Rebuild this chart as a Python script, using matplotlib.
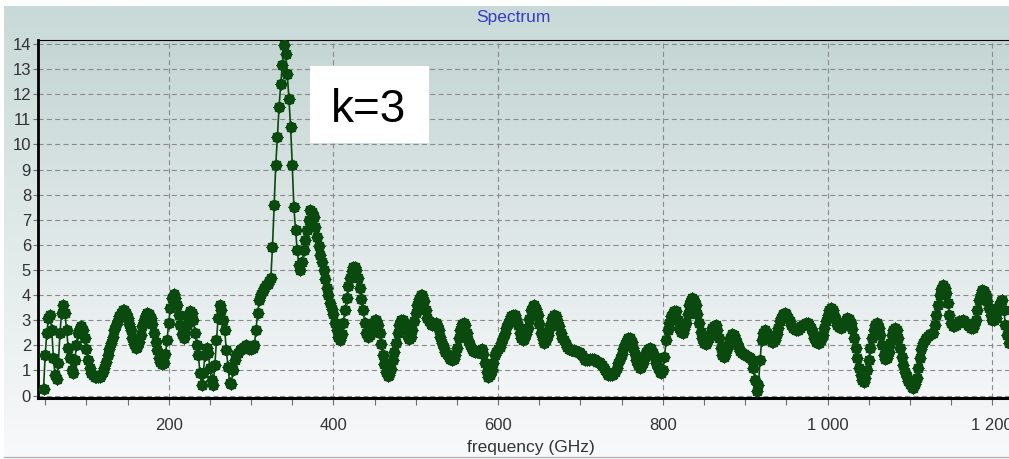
import numpy as np
import matplotlib.pyplot as plt
from matplotlib.patches import Rectangle
from matplotlib.ticker import MultipleLocator

plt.rcParams['font.family'] = ['Liberation Sans', 'DejaVu Sans']

W, H = 1009, 459

# spectrum samples, one every 2 GHz
freq_low = np.arange(48, 95, 2)
amp_low = [0.25, 1.6, 2.5, 3.1, 3.2, 2.6, 1.5, 0.8, 0.65, 1.3, 2.5, 3.3,
           3.6, 3.3, 2.6, 1.9, 1.5, 1.0, 0.9, 1.4, 2.0, 2.5, 2.7, 2.75]

freq_mid = np.arange(96, 227, 2)
amp_mid = [2.6, 2.3, 1.85, 1.4, 1.1, 0.9, 0.8, 0.75, 0.72, 0.72, 0.75, 0.8,
           0.92, 1.1, 1.35, 1.6, 1.85, 2.1, 2.35, 2.6, 2.8, 3.0, 3.15, 3.3,
           3.4, 3.4, 3.3, 3.1, 2.85, 2.6, 2.3, 2.05, 1.9, 1.95, 2.15, 2.4,
           2.75, 3.0, 3.2, 3.3, 3.25, 3.1, 2.85, 2.5, 2.15, 1.8, 1.5, 1.35,
           1.25, 1.3, 1.65, 2.2, 2.9, 3.5, 3.9, 4.05, 3.9, 3.6, 3.2, 2.8,
           2.45, 2.3, 2.5, 2.8, 3.15, 3.35]

freq_peak = np.arange(228, 363, 2)
amp_peak = [3.3, 3.0, 2.5, 2.0, 1.6, 0.9, 0.4, 0.9, 1.6, 1.9, 1.7, 1.1,
            0.6, 0.4, 1.2, 2.2, 3.1, 3.6, 3.4, 3.0, 2.6, 1.8, 1.15, 0.5,
            0.45, 1.0, 1.4, 1.6, 1.7, 1.8, 1.85, 1.9, 1.95, 2.0, 1.95, 1.85,
            1.85, 1.9, 2.0, 2.6, 3.3, 3.8, 4.05, 4.15, 4.3, 4.4, 4.45, 4.55,
            4.7, 5.9, 7.6, 9.2, 10.3, 11.5, 12.4, 13.15, 13.95, 13.6, 12.8, 11.8,
            10.7, 9.2, 7.5, 6.6, 5.8, 5.2, 5.0, 5.3]

freq_high = np.arange(364, 1221, 2)
amp_high = [
    5.8, 6.2, 6.6, 7.0, 7.4, 7.3, 7.1, 6.7, 6.3, 5.95, 5.6, 5.3,
    5.0, 4.65, 4.3, 4.0, 3.7, 3.45, 3.25, 2.9, 2.6, 2.35, 2.2, 2.45,
    2.9, 3.4, 3.9, 4.35, 4.7, 4.95, 5.1, 5.1, 5.0, 4.7, 4.3, 3.85,
    3.4, 2.9, 2.5, 2.35, 2.4, 2.7, 2.9, 3.0, 3.0, 2.8, 2.5, 2.05,
    1.6, 1.25, 0.95, 0.78, 0.8, 1.05, 1.4, 1.75, 2.1, 2.5, 2.8, 3.0,
    3.0, 2.85, 2.6, 2.35, 2.25, 2.35, 2.6, 2.95, 3.3, 3.6, 3.85, 4.0,
    4.0, 3.75, 3.4, 3.1, 2.95, 2.85, 2.8, 2.85, 2.9, 2.8, 2.6, 2.35,
    2.1, 1.9, 1.75, 1.65, 1.55, 1.45, 1.4, 1.45, 1.6, 1.9, 2.3, 2.6,
    2.85, 2.9, 2.8, 2.5, 2.2, 2.0, 1.85, 1.78, 1.75, 1.72, 1.75, 1.82,
    1.85, 1.65, 1.3, 0.95, 0.75, 0.8, 1.0, 1.3, 1.6, 1.75, 1.85, 1.95,
    2.1, 2.3, 2.5, 2.7, 2.9, 3.05, 3.15, 3.2, 3.2, 3.05, 2.8, 2.5,
    2.3, 2.2, 2.25, 2.45, 2.7, 3.05, 3.4, 3.55, 3.6, 3.45, 3.2, 2.85,
    2.5, 2.25, 2.1, 2.2, 2.4, 2.65, 2.9, 3.1, 3.2, 3.15, 3.0, 2.75,
    2.5, 2.3, 2.2, 2.05, 1.95, 1.85, 1.8, 1.8, 1.8, 1.78, 1.75, 1.72,
    1.7, 1.6, 1.5, 1.42, 1.4, 1.42, 1.45, 1.47, 1.45, 1.4, 1.35, 1.32,
    1.3, 1.2, 1.1, 1.0, 0.9, 0.82, 0.8, 0.8, 0.85, 0.95, 1.1, 1.28,
    1.45, 1.65, 1.85, 2.05, 2.2, 2.28, 2.3, 2.15, 1.9, 1.65, 1.4, 1.2,
    1.1, 1.15, 1.3, 1.55, 1.75, 1.85, 1.9, 1.85, 1.7, 1.5, 1.3, 1.1,
    0.95, 0.9, 1.0, 1.55, 2.2, 2.6, 2.9, 3.15, 3.3, 3.38, 3.35, 3.0,
    2.7, 2.55, 2.5, 2.65, 2.9, 3.25, 3.6, 3.8, 3.9, 3.8, 3.6, 3.25,
    2.9, 2.55, 2.3, 2.1, 2.05, 2.15, 2.3, 2.5, 2.7, 2.78, 2.8, 2.6,
    2.3, 1.9, 1.6, 1.55, 1.6, 1.85, 2.1, 2.3, 2.45, 2.42, 2.3, 2.1,
    1.9, 1.78, 1.7, 1.65, 1.6, 1.58, 1.55, 1.5, 1.4, 1.1, 0.6, 0.2,
    0.4, 1.4, 2.2, 2.5, 2.6, 2.5, 2.4, 2.25, 2.15, 2.12, 2.2, 2.45,
    2.7, 2.95, 3.1, 3.25, 3.3, 3.25, 3.1, 2.95, 2.8, 2.7, 2.65, 2.6,
    2.6, 2.68, 2.75, 2.8, 2.85, 2.9, 2.9, 2.82, 2.7, 2.5, 2.3, 2.15,
    2.1, 2.1, 2.2, 2.4, 2.7, 2.95, 3.2, 3.4, 3.5, 3.4, 3.2, 3.0,
    2.8, 2.72, 2.7, 2.78, 2.9, 3.02, 3.1, 3.05, 2.9, 2.65, 2.3, 1.9,
    1.5, 1.1, 0.8, 0.6, 0.55, 0.7, 1.0, 1.4, 1.9, 2.3, 2.6, 2.8,
    2.9, 2.7, 2.4, 2.0, 1.6, 1.45, 1.5, 1.75, 2.1, 2.4, 2.6, 2.7,
    2.6, 2.3, 1.9, 1.55, 1.2, 0.95, 0.75, 0.58, 0.45, 0.35, 0.3, 0.45,
    0.7, 1.1, 1.5, 1.85, 2.1, 2.22, 2.3, 2.38, 2.45, 2.45, 2.5, 2.8,
    3.2, 3.6, 4.0, 4.25, 4.4, 4.3, 4.1, 3.7, 3.2, 2.9, 2.75, 2.75,
    2.8, 2.88, 2.95, 2.98, 3.0, 2.95, 2.9, 2.82, 2.75, 2.7, 2.7, 2.8,
    3.0, 3.4, 3.8, 4.05, 4.2, 4.15, 4.0, 3.75, 3.5, 3.2, 3.0, 3.0,
    3.1, 3.35, 3.6, 3.75, 3.8, 3.4, 2.8, 2.4, 2.1]

freq = np.concatenate([freq_low, freq_mid, freq_peak, freq_high])
amp = np.concatenate([amp_low, amp_mid, amp_peak, amp_high])

x_ticks = [200, 400, 600, 800, 1000, 1200]
x_tick_labels = ['200', '400', '600', '800', '1 000', '1 200']
y_ticks = list(range(15))

green = '#0a4a0e'


def vgrad(top, bottom, n=256):
    t = np.linspace(0, 1, n)[:, None, None]
    c0 = np.array(top)[None, None, :] / 255
    c1 = np.array(bottom)[None, None, :] / 255
    return c0 + (c1 - c0) * t


fig = plt.figure(figsize=(W / 100, H / 100), dpi=100)
fig.patch.set_facecolor('white')

# window background with its soft vertical fade
bg = fig.add_axes([0, 0, 1, 1], zorder=-10)
bg.imshow(vgrad((200, 218, 215), (248, 249, 250)), extent=(4, W, 456, 6),
          aspect='auto', interpolation='bilinear')
bg.plot([4, W], [456.5, 456.5], color='#b0b0b0', lw=1)
bg.set_xlim(0, W)
bg.set_ylim(H, 0)
bg.axis('off')

# plot area in pixel terms: left 38, right 1009, top 40, bottom 398.3
ax = fig.add_axes([38 / W, (H - 398.3) / H, (W - 38) / W, (398.3 - 40) / H])
ax.patch.set_alpha(0)
ax.imshow(vgrad((196, 214, 211), (244, 246, 248)), extent=(0, 1, 0, 1),
          transform=ax.transAxes, aspect='auto', interpolation='bilinear',
          zorder=0)

ax.plot(freq, amp, color=green, lw=1.2, marker='o', ms=7,
        mfc=green, mec=green, zorder=3)
ax.plot(freq, amp, ls='none', marker=(8, 1, 0), ms=9, mfc=green,
        mec=green, mew=0.5, zorder=3)

ax.set_xlim(41.3, 1220.3)
ax.set_ylim(-0.11, 14.16)

ax.set_xticks(x_ticks)
ax.set_xticklabels(x_tick_labels)
ax.xaxis.set_minor_locator(MultipleLocator(50))
ax.set_yticks(y_ticks)

ax.set_axisbelow(True)
ax.grid(True, which='major', color='#8a8a8a', lw=0.8, ls=(0, (4.5, 3)))

ax.tick_params(axis='x', which='both', direction='out', length=5, width=0.8,
               color='#707070', labelsize=12, labelcolor='#333333', pad=9)
ax.tick_params(axis='y', direction='out', length=3.5, width=0.8,
               color='#707070', labelsize=12, labelcolor='#333333', pad=1.5)

ax.spines['right'].set_visible(False)
ax.spines['left'].set_linewidth(2.0)
ax.spines['bottom'].set_linewidth(2.2)
ax.spines['top'].set_linewidth(0.8)

fig.text(513 / W, 1 - 22 / H, 'Spectrum', color='#3a3ac4', fontsize=12.5,
         ha='center', va='baseline')
fig.text(531 / W, 1 - 452 / H, 'frequency (GHz)', color='#333333',
         fontsize=12.5, ha='center', va='baseline')

# white label box over the peak
fig.add_artist(Rectangle((310 / W, 1 - 143 / H), 119 / W, 77 / H,
                         transform=fig.transFigure, facecolor='white',
                         edgecolor='none', zorder=5))
fig.text(369 / W, 1 - 122 / H, 'k=3', color='black', fontsize=33,
         ha='center', va='baseline', zorder=6)

fig.savefig('out.png', dpi=100)
